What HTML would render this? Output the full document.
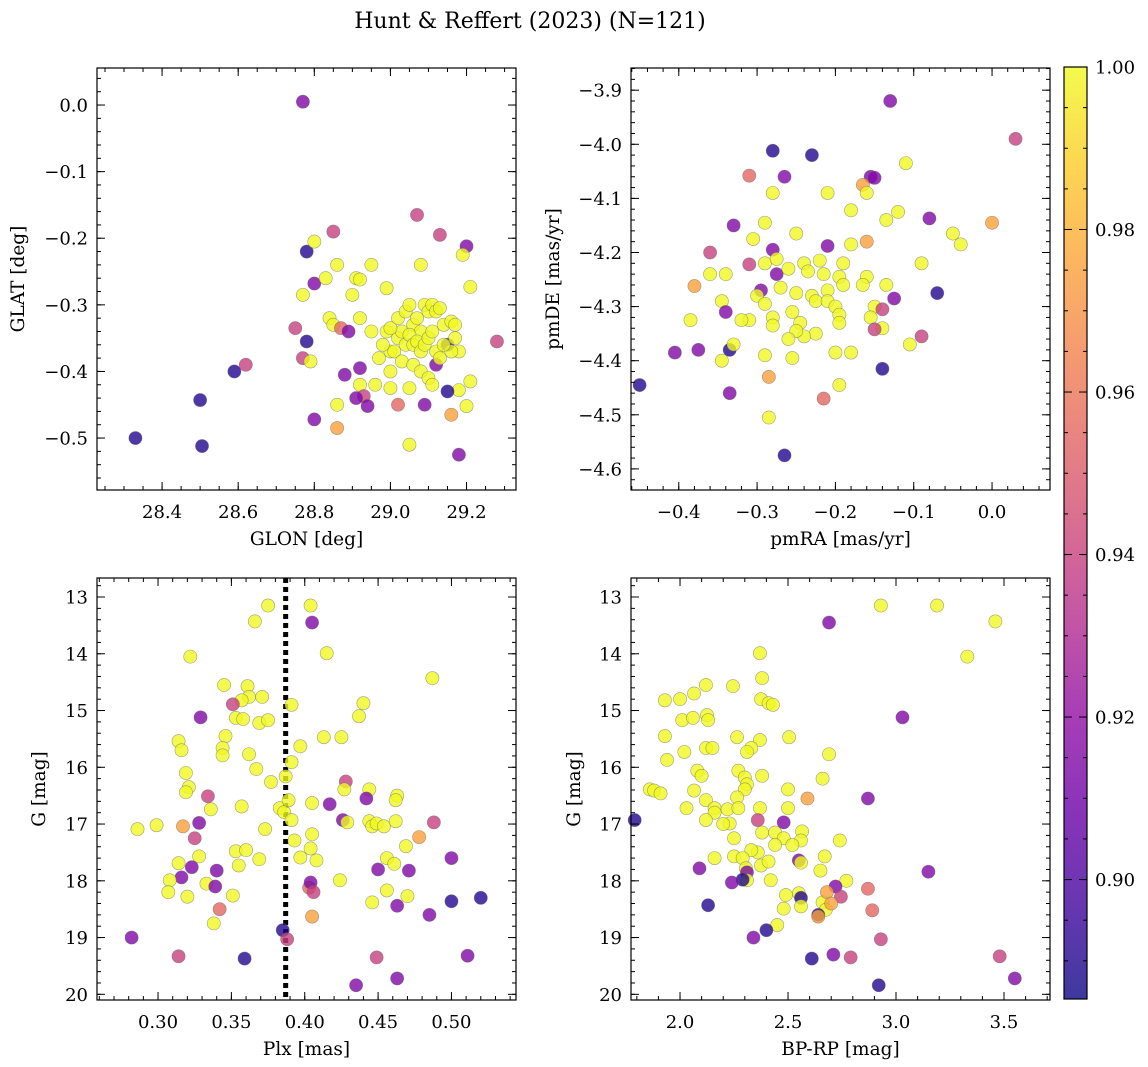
<!DOCTYPE html>
<html><head><meta charset="utf-8"><style>
body{margin:0;background:#fff}
svg{display:block;font-family:"DejaVu Serif","Liberation Serif",serif}
</style></head><body>
<svg id="fig" width="1148" height="1067" viewBox="0 0 1148 1067" xmlns="http://www.w3.org/2000/svg">
<text x="530" y="28" font-size="22" text-anchor="middle">Hunt &amp; Reffert (2023) (N=121)</text>
</svg>
<script>
// probability codes: Y=1.0 O=0.975 C=0.955 K=0.94 P=0.915 D=0.89
const Y=1.0,O=0.975,C=0.955,K=0.94,P=0.915,D=0.89;
const lonLat=[[28.77,0.005,P],[28.33,-0.50,D],[28.50,-0.443,D],[28.505,-0.512,D],[28.59,-0.40,D],[28.62,-0.39,K],[28.75,-0.335,K],[28.77,-0.38,K],[28.78,-0.355,D],[28.79,-0.385,Y],[28.78,-0.22,D],[28.80,-0.205,Y],[28.77,-0.285,Y],[28.80,-0.268,P],[28.80,-0.472,P],[28.85,-0.19,K],[28.83,-0.26,Y],[28.86,-0.24,Y],[28.84,-0.32,Y],[28.85,-0.33,Y],[28.86,-0.45,Y],[28.86,-0.485,O],[28.87,-0.335,C],[28.89,-0.34,P],[28.88,-0.405,P],[28.90,-0.285,Y],[28.91,-0.26,Y],[28.92,-0.262,Y],[28.95,-0.24,Y],[28.92,-0.32,Y],[28.92,-0.395,P],[28.92,-0.42,Y],[28.93,-0.437,K],[28.91,-0.44,P],[28.94,-0.452,P],[28.95,-0.34,Y],[28.99,-0.275,Y],[28.99,-0.34,Y],[29.00,-0.37,Y],[29.00,-0.40,Y],[29.00,-0.425,Y],[29.02,-0.45,C],[29.05,-0.51,Y],[29.07,-0.165,K],[29.08,-0.24,Y],[29.09,-0.45,P],[29.13,-0.195,K],[29.20,-0.212,P],[29.19,-0.225,Y],[29.21,-0.273,Y],[29.28,-0.355,K],[29.16,-0.465,O],[29.18,-0.525,P],[29.20,-0.452,Y],[29.21,-0.415,Y],[29.18,-0.428,Y],[29.15,-0.43,D],[29.15,-0.36,D],[29.12,-0.39,P],
[29.02,-0.32,Y],[29.04,-0.31,Y],[29.05,-0.30,Y],[29.06,-0.33,Y],[29.07,-0.32,Y],[29.08,-0.34,Y],[29.09,-0.30,Y],[29.10,-0.31,Y],[29.11,-0.30,Y],[29.12,-0.31,Y],[29.13,-0.305,Y],[29.14,-0.33,Y],[29.16,-0.325,Y],[29.17,-0.33,Y],[29.17,-0.35,Y],[29.18,-0.37,Y],[29.16,-0.37,Y],[29.02,-0.35,Y],[29.03,-0.34,Y],[29.04,-0.36,Y],[29.05,-0.345,Y],[29.06,-0.36,Y],[29.07,-0.355,Y],[29.08,-0.37,Y],[29.09,-0.36,Y],[29.10,-0.35,Y],[29.11,-0.34,Y],[29.12,-0.37,Y],[29.13,-0.38,Y],[29.14,-0.36,Y],[29.01,-0.37,Y],[29.03,-0.385,Y],[29.06,-0.39,Y],[29.08,-0.40,Y],[29.10,-0.41,Y],[29.11,-0.42,Y],[29.05,-0.425,Y],[28.98,-0.36,Y],[28.97,-0.38,Y],[29.00,-0.335,Y],[28.96,-0.42,Y]];
const pm=[[-0.13,-3.92,P],[0.03,-3.99,K],[-0.28,-4.012,D],[-0.23,-4.02,D],[-0.31,-4.058,C],[-0.265,-4.06,P],[-0.155,-4.06,P],[-0.15,-4.062,P],[-0.11,-4.035,Y],[-0.165,-4.075,O],[-0.16,-4.09,Y],[-0.28,-4.09,Y],[-0.21,-4.09,Y],[0.0,-4.145,O],[-0.29,-4.145,Y],[-0.33,-4.15,P],[-0.25,-4.165,Y],[-0.305,-4.175,Y],[-0.18,-4.122,Y],[-0.12,-4.125,Y],[-0.135,-4.14,Y],[-0.08,-4.137,P],[-0.05,-4.165,Y],[-0.04,-4.185,Y],[-0.16,-4.18,O],[-0.21,-4.188,P],[-0.18,-4.185,Y],[-0.36,-4.20,K],[-0.28,-4.195,P],[-0.38,-4.262,O],[-0.36,-4.24,Y],[-0.31,-4.222,K],[-0.29,-4.22,Y],[-0.275,-4.212,Y],[-0.275,-4.24,P],[-0.26,-4.23,Y],[-0.24,-4.22,Y],[-0.22,-4.215,Y],[-0.235,-4.235,Y],[-0.215,-4.24,Y],[-0.195,-4.245,Y],[-0.19,-4.22,Y],[-0.16,-4.245,Y],[-0.165,-4.26,Y],[-0.19,-4.26,Y],[-0.21,-4.27,Y],[-0.23,-4.28,Y],[-0.25,-4.275,Y],[-0.27,-4.265,Y],[-0.295,-4.27,P],[-0.30,-4.28,Y],[-0.29,-4.295,Y],[-0.34,-4.24,Y],[-0.345,-4.29,Y],[-0.385,-4.325,Y],[-0.34,-4.31,P],[-0.31,-4.325,Y],[-0.28,-4.32,Y],[-0.28,-4.335,Y],[-0.255,-4.31,Y],[-0.245,-4.33,Y],[-0.225,-4.29,Y],[-0.21,-4.29,Y],[-0.2,-4.30,Y],[-0.195,-4.315,Y],[-0.195,-4.33,Y],[-0.225,-4.35,Y],[-0.24,-4.355,Y],[-0.25,-4.345,Y],[-0.26,-4.36,Y],[-0.135,-4.26,Y],[-0.125,-4.285,P],[-0.15,-4.30,Y],[-0.155,-4.32,Y],[-0.14,-4.305,K],[-0.14,-4.34,Y],[-0.15,-4.342,K],[-0.09,-4.22,Y],[-0.07,-4.275,D],[-0.09,-4.355,K],[-0.105,-4.37,Y],[-0.2,-4.385,Y],[-0.18,-4.385,Y],[-0.29,-4.39,Y],[-0.255,-4.395,Y],[-0.335,-4.38,D],[-0.33,-4.37,Y],[-0.345,-4.40,Y],[-0.375,-4.38,P],[-0.405,-4.385,P],[-0.45,-4.445,D],[-0.335,-4.46,P],[-0.285,-4.43,O],[-0.195,-4.445,Y],[-0.215,-4.47,C],[-0.14,-4.415,D],[-0.285,-4.505,Y],[-0.265,-4.575,D],[-0.32,-4.325,Y]];
const plxG=[[0.375,13.15,Y],[0.404,13.15,Y],[0.405,13.45,P],[0.366,13.43,Y],[0.322,14.05,Y],[0.415,13.99,Y],[0.487,14.43,Y],[0.345,14.55,Y],[0.361,14.57,Y],[0.362,14.76,Y],[0.371,14.76,Y],[0.357,14.82,Y],[0.329,15.12,P],[0.351,14.89,K],[0.353,15.13,Y],[0.358,15.15,Y],[0.369,15.22,Y],[0.375,15.17,Y],[0.391,14.9,Y],[0.440,14.87,Y],[0.437,15.10,Y],[0.413,15.47,Y],[0.425,15.47,Y],[0.346,15.45,Y],[0.314,15.54,Y],[0.316,15.70,Y],[0.344,15.66,Y],[0.344,15.79,Y],[0.362,15.77,Y],[0.397,15.63,Y],[0.391,15.91,Y],[0.319,16.1,Y],[0.321,16.35,Y],[0.319,16.44,Y],[0.367,16.03,Y],[0.377,16.26,Y],[0.387,16.16,Y],[0.428,16.25,K],[0.427,16.39,Y],[0.444,16.39,Y],[0.405,16.63,Y],[0.417,16.65,P],[0.442,16.55,P],[0.463,16.5,Y],[0.462,16.58,Y],[0.334,16.51,K],[0.336,16.74,Y],[0.357,16.69,Y],[0.383,16.72,Y],[0.386,16.79,Y],[0.389,16.58,Y],[0.391,16.93,Y],[0.426,16.93,P],[0.429,16.97,Y],[0.444,16.95,Y],[0.446,17.04,Y],[0.449,16.99,Y],[0.454,17.04,Y],[0.462,16.95,Y],[0.488,16.97,K],[0.299,17.02,Y],[0.286,17.09,Y],[0.328,16.98,P],[0.317,17.04,O],[0.325,17.25,K],[0.373,17.09,Y],[0.405,17.18,Y],[0.478,17.23,O],[0.469,17.39,Y],[0.404,17.43,Y],[0.397,17.59,Y],[0.393,17.29,Y],[0.328,17.57,Y],[0.314,17.69,Y],[0.355,17.73,Y],[0.369,17.62,Y],[0.353,17.48,Y],[0.360,17.46,Y],[0.408,17.64,Y],[0.50,17.6,P],[0.456,17.6,Y],[0.461,17.7,Y],[0.471,17.82,P],[0.45,17.8,P],[0.340,17.82,P],[0.323,17.76,P],[0.316,17.94,P],[0.308,17.99,Y],[0.307,18.2,Y],[0.32,18.28,Y],[0.333,18.05,Y],[0.339,18.1,P],[0.351,18.26,Y],[0.424,17.99,Y],[0.403,18.12,C],[0.404,18.03,P],[0.406,18.2,K],[0.456,18.17,Y],[0.470,18.27,Y],[0.52,18.3,D],[0.50,18.36,D],[0.446,18.38,Y],[0.463,18.44,P],[0.342,18.5,C],[0.338,18.75,Y],[0.405,18.63,O],[0.485,18.6,P],[0.385,18.87,D],[0.388,19.03,K],[0.282,19.0,P],[0.314,19.33,K],[0.359,19.37,D],[0.449,19.35,K],[0.511,19.32,P],[0.463,19.72,P],[0.435,19.84,P]];
const colG=[[2.93,13.15,Y],[3.19,13.15,Y],[3.46,13.43,Y],[2.69,13.45,P],[3.33,14.05,Y],[2.37,13.99,Y],[2.38,14.43,Y],[2.12,14.55,Y],[2.245,14.57,Y],[2.065,14.7,Y],[2.0,14.8,Y],[2.375,14.8,Y],[2.41,14.87,Y],[2.43,14.9,Y],[1.93,14.82,Y],[2.125,15.08,Y],[2.13,15.17,Y],[2.01,15.17,Y],[2.06,15.13,Y],[3.03,15.12,P],[2.264,15.47,Y],[2.505,15.47,Y],[2.37,15.52,Y],[2.33,15.66,Y],[2.12,15.66,Y],[2.15,15.66,Y],[1.93,15.45,Y],[2.02,15.73,Y],[2.31,15.73,Y],[2.69,15.77,Y],[1.94,15.87,Y],[2.08,16.06,Y],[2.10,16.15,Y],[2.27,16.06,Y],[2.38,16.15,Y],[2.30,16.18,Y],[1.86,16.39,Y],[1.88,16.41,Y],[1.91,16.46,Y],[2.66,16.2,Y],[2.31,16.3,Y],[2.30,16.39,Y],[2.50,16.39,Y],[2.065,16.41,Y],[2.264,16.53,Y],[2.12,16.58,Y],[2.87,16.55,P],[2.59,16.55,O],[2.03,16.72,Y],[2.16,16.72,Y],[2.16,16.8,Y],[2.22,16.74,Y],[2.27,16.72,Y],[2.37,16.72,Y],[2.50,16.72,Y],[2.12,16.93,Y],[2.23,16.99,Y],[2.20,17.0,Y],[2.36,16.93,K],[2.48,16.97,P],[1.79,16.93,D],[2.38,17.15,Y],[2.44,17.15,Y],[2.565,17.13,Y],[2.56,17.29,Y],[2.25,17.25,Y],[2.48,17.25,Y],[2.74,17.29,Y],[2.44,17.37,Y],[2.52,17.37,Y],[2.36,17.5,Y],[2.33,17.46,Y],[2.25,17.57,Y],[2.16,17.6,Y],[2.29,17.6,Y],[2.375,17.73,Y],[2.41,17.66,Y],[2.55,17.64,P],[2.67,17.57,Y],[2.56,17.68,Y],[2.305,17.78,Y],[2.31,17.85,P],[2.09,17.78,P],[2.31,17.99,Y],[2.42,17.99,Y],[2.65,17.82,Y],[3.15,17.84,P],[2.77,18.0,Y],[2.72,18.1,P],[2.29,17.98,D],[2.24,18.03,P],[2.55,18.22,Y],[2.49,18.25,Y],[2.87,18.14,C],[2.745,18.28,K],[2.66,18.38,Y],[2.68,18.2,O],[2.13,18.43,D],[2.48,18.49,Y],[2.56,18.3,D],[2.56,18.45,Y],[2.675,18.51,Y],[2.7,18.4,O],[2.64,18.6,D],[2.64,18.63,O],[2.89,18.52,C],[2.45,18.78,Y],[2.40,18.87,D],[2.34,19.0,P],[2.71,19.3,P],[2.93,19.03,K],[2.79,19.35,K],[2.61,19.37,D],[3.48,19.33,K],[3.55,19.72,P],[2.92,19.84,D]];
const plxClusterValue=0.387;
const cbTicks=[0.90,0.92,0.94,0.96,0.98,1.00];
const cbMin=0.8853, cbMax=1.0;

const NS='http://www.w3.org/2000/svg';
const svg=document.getElementById('fig');
function el(tag,attrs,parent){const e=document.createElementNS(NS,tag);for(const k in attrs)e.setAttribute(k,attrs[k]);(parent||svg).appendChild(e);return e;}
const stops=[[0,'#0d0887'],[0.1,'#41049d'],[0.2,'#6a00a8'],[0.3,'#8f0da4'],[0.4,'#b12a90'],[0.5,'#cc4778'],[0.6,'#e16462'],[0.7,'#f2844b'],[0.8,'#fca636'],[0.9,'#fcce25'],[1,'#f0f921']];
function hex(h){return [1,3,5].map(i=>parseInt(h.substr(i,2),16));}
function plasma(t){t=Math.max(0,Math.min(1,t));for(let i=1;i<stops.length;i++){if(t<=stops[i][0]){const a=stops[i-1],b=stops[i];const f=(t-a[0])/(b[0]-a[0]);const ca=hex(a[1]),cb=hex(b[1]);return 'rgb('+ca.map((v,j)=>Math.round(v+(cb[j]-v)*f)).join(',')+')';}}return stops[stops.length-1][1];}
function fmt(v,d){const s=Math.abs(v).toFixed(d);return (v<-1e-9?'−':'')+s;}

function panel(c){
  const g=el('g',{});
  
  
  const [x0,y0,x1,y1]=c.box;
  const sx=v=>x0+(v-c.xd[0])/(c.xd[1]-c.xd[0])*(x1-x0);
  const sy=v=>y1-(v-c.yd[0])/(c.yd[1]-c.yd[0])*(y1-y0);
  if(c.vline!==undefined){const l=el('line',{x1:sx(c.vline),x2:sx(c.vline),y1:y0,y2:y1,stroke:'#000','stroke-width':5,'stroke-dasharray':'5,4'},g);}
  c.pts.forEach(p=>{
    const m=el('circle',{cx:sx(p[0]),cy:sy(p[1]),r:6.6,fill:plasma((p[2]-cbMin)/(cbMax-cbMin)),'fill-opacity':0.8,stroke:'#666','stroke-opacity':0.6,'stroke-width':0.6},g);
    
    
  });
  el('rect',{x:x0,y:y0,width:x1-x0,height:y1-y0,fill:'none',stroke:'#000','stroke-width':1.2},g);
  const lo=c.xd[0],hi=c.xd[1];
  for(let v=Math.ceil(lo/c.xm-1e-6)*c.xm;v<=hi;v+=c.xm){const X=sx(v);el('line',{x1:X,x2:X,y1:y1,y2:y1-4,stroke:'#000'},g);el('line',{x1:X,x2:X,y1:y0,y2:y0+4,stroke:'#000'},g);}
  c.xt.forEach(v=>{const X=sx(v);el('line',{x1:X,x2:X,y1:y1,y2:y1-8,stroke:'#000'},g);el('line',{x1:X,x2:X,y1:y0,y2:y0+8,stroke:'#000'},g);
    const t=el('text',{x:X,y:y1+28,'font-size':18,'text-anchor':'middle'},g);t.textContent=fmt(v,c.xdp);});
  const ylo=Math.min(c.yd[0],c.yd[1]),yhi=Math.max(c.yd[0],c.yd[1]);
  for(let v=Math.ceil(ylo/c.ym-1e-6)*c.ym;v<=yhi;v+=c.ym){const Y=sy(v);el('line',{x1:x0,x2:x0+4,y1:Y,y2:Y,stroke:'#000'},g);el('line',{x1:x1,x2:x1-4,y1:Y,y2:Y,stroke:'#000'},g);}
  c.yt.forEach(v=>{const Y=sy(v);el('line',{x1:x0,x2:x0+8,y1:Y,y2:Y,stroke:'#000'},g);el('line',{x1:x1,x2:x1-8,y1:Y,y2:Y,stroke:'#000'},g);
    const t=el('text',{x:x0-9,y:Y+6.5,'font-size':18,'text-anchor':'end'},g);t.textContent=fmt(v,c.ydp);});
  const xl=el('text',{x:(x0+x1)/2,y:y1+55,'font-size':18.5,'text-anchor':'middle'},g);xl.textContent=c.xl;
  
  const yl=el('text',{x:0,y:0,'font-size':18.5,'text-anchor':'middle',transform:`translate(${c.ylx},${(y0+y1)/2}) rotate(-90)`},g);yl.textContent=c.yl;
  
}
panel({name:'glon-glat-panel',box:[97,68,516,490],xd:[28.229,29.33],yd:[-0.578,0.0556],xt:[28.4,28.6,28.8,29.0,29.2],yt:[0,-0.1,-0.2,-0.3,-0.4,-0.5],xm:0.05,ym:0.02,xdp:1,ydp:1,pts:lonLat,xl:'GLON [deg]',yl:'GLAT [deg]',ylx:24});
panel({name:'proper-motion-panel',box:[631,68,1050,490],xd:[-0.461,0.074],yd:[-4.639,-3.859],xt:[-0.4,-0.3,-0.2,-0.1,0.0],yt:[-3.9,-4.0,-4.1,-4.2,-4.3,-4.4,-4.5,-4.6],xm:0.02,ym:0.02,xdp:1,ydp:1,pts:pm,xl:'pmRA [mas/yr]',yl:'pmDE [mas/yr]',ylx:559});
panel({name:'parallax-magnitude-panel',box:[97,578,516,1000],xd:[0.2584,0.544],yd:[20.1,12.665],xt:[0.30,0.35,0.40,0.45,0.50],yt:[13,14,15,16,17,18,19,20],xm:0.01,ym:0.2,xdp:2,ydp:0,pts:plxG,xl:'Plx [mas]',yl:'G [mag]',ylx:45,vline:plxClusterValue});
panel({name:'color-magnitude-panel',box:[631,578,1050,1000],xd:[1.773,3.713],yd:[20.1,12.665],xt:[2.0,2.5,3.0,3.5],yt:[13,14,15,16,17,18,19,20],xm:0.1,ym:0.2,xdp:1,ydp:0,pts:colG,xl:'BP-RP [mag]',yl:'G [mag]',ylx:580});

const defs=el('defs',{});const lg=el('linearGradient',{id:'cbg',x1:0,y1:1,x2:0,y2:0},defs);
for(let i=0;i<=20;i++){el('stop',{offset:i/20,'stop-color':plasma(i/20),'stop-opacity':0.8},lg);}
const cb=el('g',{});
const cx0=1064,cx1=1087,cy0=67,cy1=999;
const cyS=v=>cy1-(v-cbMin)/(cbMax-cbMin)*(cy1-cy0);
el('rect',{x:cx0,y:cy0,width:cx1-cx0,height:cy1-cy0,fill:'url(#cbg)',stroke:'#000','stroke-width':1.2},cb);
for(let v=0.89;v<=1.0001;v+=0.005){const Y=cyS(v);el('line',{x1:cx1,x2:cx1-4,y1:Y,y2:Y,stroke:'#000'},cb);el('line',{x1:cx0,x2:cx0+4,y1:Y,y2:Y,stroke:'#000'},cb);}
cbTicks.forEach(v=>{const Y=cyS(v);el('line',{x1:cx1,x2:cx1-8,y1:Y,y2:Y,stroke:'#000'},cb);el('line',{x1:cx0,x2:cx0+8,y1:Y,y2:Y,stroke:'#000'},cb);
  const t=el('text',{x:cx1+8,y:Y+6.5,'font-size':18},cb);t.textContent=v.toFixed(2);
  });
</script>
</body></html>
